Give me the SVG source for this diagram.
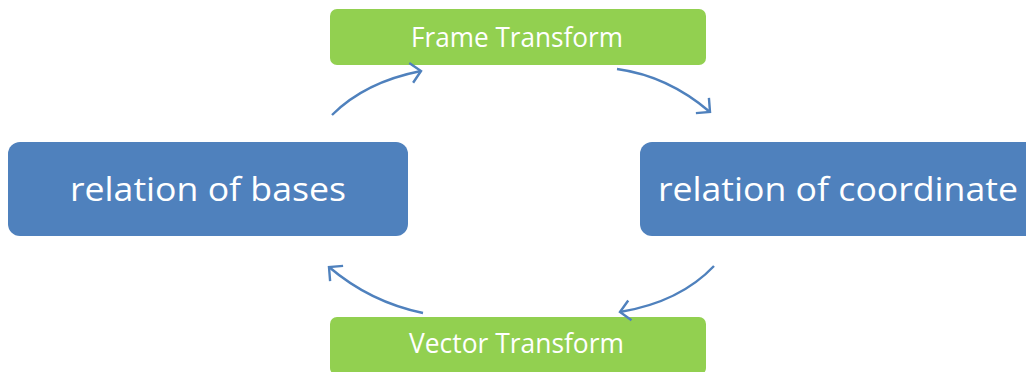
<svg xmlns="http://www.w3.org/2000/svg" width="1026" height="372" viewBox="0 0 1026 372">
  <style>
    .blue { fill: #4F81BD; }
    .green { fill: #92D050; }
    .label { fill: #FFFFFF; font-family: "Open Sans", "Noto Sans", "Liberation Sans", sans-serif; }
    .big { font-size: 33px; }
    .small { font-size: 27px; }
    .link { fill: none; stroke: #4F81BD; stroke-width: 2.4; }
  </style>
  <defs>
    <marker id="chev" markerUnits="userSpaceOnUse" markerWidth="26" markerHeight="26" refX="13" refY="13" orient="auto" viewBox="0 0 26 26">
      <path d="M3 3 L13 13 L3 23" fill="none" stroke="#4F81BD" stroke-width="2.4"/>
    </marker>
  </defs>
  <rect width="1026" height="372" fill="#FFFFFF"/>

  <g id="frame-transform">
    <rect class="green" x="330" y="9" width="376" height="56" rx="7"/>
    <text class="label small" x="411" y="47" textLength="212" lengthAdjust="spacingAndGlyphs">Frame Transform</text>
  </g>

  <g id="vector-transform">
    <rect class="green" x="330" y="317" width="376" height="58" rx="7"/>
    <text class="label small" x="409" y="353" textLength="215" lengthAdjust="spacingAndGlyphs">Vector Transform</text>
  </g>

  <g id="relation-of-bases">
    <rect class="blue" x="8" y="142" width="400" height="94" rx="12"/>
    <text class="label big" x="70" y="201" textLength="276" lengthAdjust="spacingAndGlyphs">relation of bases</text>
  </g>

  <g id="relation-of-coordinate">
    <rect class="blue" x="640" y="142" width="400" height="94" rx="12"/>
    <text class="label big" x="658" y="201" textLength="360" lengthAdjust="spacingAndGlyphs">relation of coordinate</text>
  </g>

  <g id="connectors">
    <path class="link" d="M332 115 Q365 82 421 71" marker-end="url(#chev)"/>
    <path class="link" d="M617 69 Q668 76 710 112" marker-end="url(#chev)"/>
    <path class="link" d="M714 266 Q680 302 620 312" marker-end="url(#chev)"/>
    <path class="link" d="M423 313 Q370 302 329 267" marker-end="url(#chev)"/>
  </g>
</svg>
